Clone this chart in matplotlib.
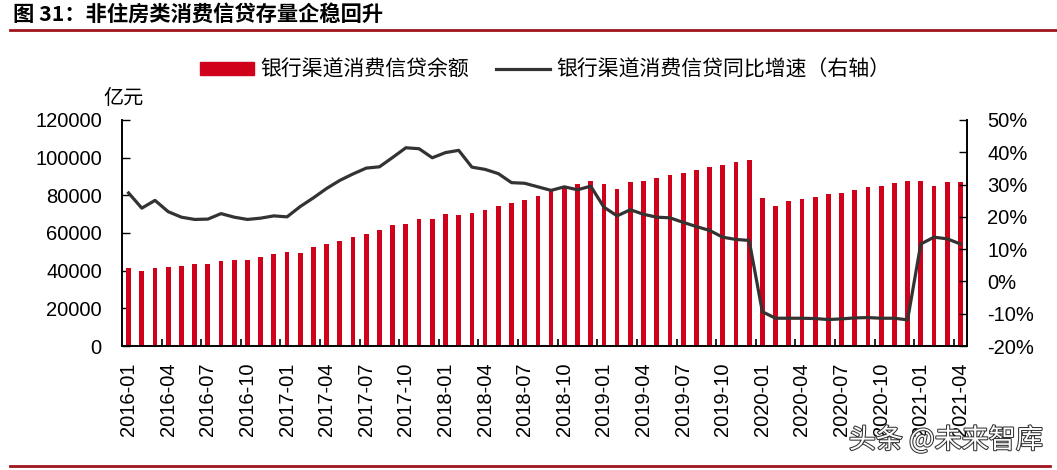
"""
非住房类消费信贷存量企稳回升 - 柱线双轴图
"""

import numpy as np
import matplotlib
matplotlib.use('Agg')
import matplotlib.pyplot as plt
import matplotlib.patheffects as pe
from matplotlib.lines import Line2D
from matplotlib.patches import Patch

plt.rcParams['font.family'] = ['Liberation Sans', 'Noto Sans CJK SC', 'DejaVu Sans']

# 月份 2016-01 ~ 2021-04
months = ['%d-%02d' % (y, m) for y in range(2016, 2022) for m in range(1, 13)][:64]

# 银行渠道消费信贷余额（亿元）
balance = [41400, 39800, 41400, 41800, 42300, 43500, 43700, 45300, 45900, 45900, 47500, 48700,
           50000, 49200, 52400, 53900, 55800, 58100, 59600, 61700, 64000, 65000, 67200, 67600,
           69900, 69300, 70800, 72400, 74300, 75900, 77700, 79600, 82500, 83900, 86200, 87600,
           86200, 83500, 86900, 87800, 89400, 91000, 91800, 93300, 94900, 96000, 97800, 99000,
           78400, 74500, 76800, 78000, 79300, 80500, 81400, 83000, 84600, 85000, 86800, 87500,
           87800, 84800, 86900, 87300]

# 银行渠道消费信贷同比增速（%）
growth = [27.4, 22.7, 25.1, 21.6, 19.9, 19.2, 19.3, 21.0, 19.9, 19.2, 19.6, 20.3,
          20.0, 23.2, 25.9, 28.8, 31.3, 33.3, 35.1, 35.5, 38.4, 41.4, 41.1, 38.3,
          39.9, 40.6, 35.4, 34.7, 33.4, 30.6, 30.4, 29.3, 28.2, 29.3, 28.4, 29.5,
          23.0, 20.3, 22.2, 20.8, 19.9, 19.7, 18.3, 17.0, 15.8, 13.7, 13.0, 12.7,
          -9.4, -11.4, -11.4, -11.4, -11.5, -11.8, -11.6, -11.3, -11.2, -11.4, -11.4, -11.9,
          11.6, 13.7, 13.2, 11.6]

W, H = 1057, 470
fig = plt.figure(figsize=(W / 100, H / 100), dpi=100)
ax = fig.add_axes([122 / W, 1 - 346 / H, (967 - 122) / W, (346 - 120) / H])
ax2 = ax.twinx()

x = np.arange(len(months))
ax.bar(x, balance, width=0.36, color='#D0021B', zorder=2)
ax2.plot(x, growth, color='#333333', lw=2.3, zorder=3)

ax.set_xlim(-0.5, len(months) - 0.5)
ax.set_ylim(0, 120000)
ax.set_yticks(range(0, 120001, 20000))
ax2.set_ylim(-20, 50)
ax2.set_yticks(range(-20, 51, 10))
ax2.set_yticklabels(['%d%%' % v for v in range(-20, 51, 10)])

ax.set_xticks(x[::3])
ax.set_xticklabels(months[::3], rotation=90)
ax.set_xticks(np.arange(2.5, len(months), 3), minor=True)
ax.tick_params(axis='x', which='major', length=0, labelsize=14.5, pad=12)
ax.tick_params(axis='x', which='minor', direction='in', length=5, width=1.2)
ax.tick_params(axis='y', direction='in', length=6, width=1, labelsize=14.5, pad=14.5)
ax2.tick_params(axis='y', direction='in', length=6, width=1, labelsize=14.5, pad=14.5)

for a in (ax, ax2):
    a.spines['top'].set_visible(False)
    for s in ('left', 'right', 'bottom'):
        a.spines[s].set_linewidth(1.2)

fig.text(124 / W, 1 - 99 / H, '亿元', fontsize=14.5, ha='center', va='center',
         family=['Noto Sans CJK SC'])

handles = [Patch(color='#D0021B'), Line2D([], [], color='#333333', lw=2.3)]
fig.legend(handles, ['银行渠道消费信贷余额', '银行渠道消费信贷同比增速（右轴）'],
           loc='center', bbox_to_anchor=(545 / W, 1 - 70 / H), ncol=2, frameon=False,
           handlelength=2.6, handleheight=0.6, columnspacing=1.3,
           handletextpad=0.3, prop={'family': ['Noto Sans CJK SC'], 'size': 15})

# 标题与分隔线
fig.text(13 / W, 1 - 14 / H, '图 31：非住房类消费信贷存量企稳回升', fontsize=15.3,
         fontweight='bold', ha='left', va='center', family=['Noto Sans CJK SC'])
fig.add_artist(Line2D([10 / W, 1.0], [1 - 29.5 / H] * 2, color='#A0141E', lw=2))
fig.add_artist(Line2D([10 / W, 1050 / W], [1 - 466 / H] * 2, color='#A0141E', lw=2))

# 水印
fig.text(946 / W, 1 - 440 / H, '头条 @未来智库', fontsize=19.5, ha='center', va='center',
         color='white', family=['Noto Sans CJK SC'],
         path_effects=[pe.withStroke(linewidth=1.5, foreground='#333333')])

fig.savefig('out.png', dpi=100)
